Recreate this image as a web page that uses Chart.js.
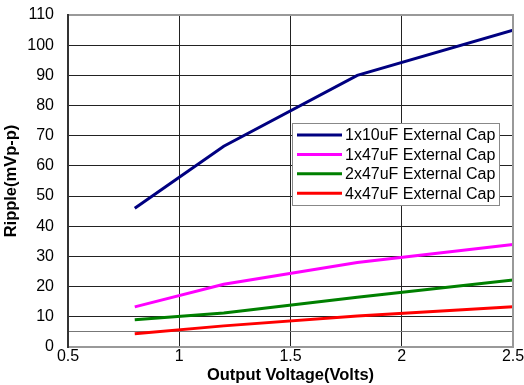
<!DOCTYPE html>
<html>
<head>
<meta charset="utf-8">
<script src="https://cdn.jsdelivr.net/npm/chart.js@4"></script>
<style>
  html, body { margin: 0; padding: 0; background: #fff; }
  #wrap { width: 524px; height: 385px; }
</style>
</head>
<body>
<div id="wrap"><canvas id="chart" width="524" height="385"></canvas></div>
<script>
// output voltage points (V)
const voltages = [0.8, 1.2, 1.8, 2.5];

// ripple in mVp-p, one list per cap setup
const ripple1x10 = [46, 66.5, 90, 105];
const ripple1x47 = [13.3, 20.8, 28, 34];
const ripple2x47 = [9, 11.3, 16.5, 22.2];
const ripple4x47 = [4.4, 7, 10.3, 13.3];

const seriesNames = ['1x10uF External Cap', '1x47uF External Cap', '2x47uF External Cap', '4x47uF External Cap'];
const seriesColors = ['#000080', '#ff00ff', '#008000', '#ff0000'];

// y grid has an extra unlabeled line at 5
const yTickValues = [0, 5, 10, 20, 30, 40, 50, 60, 70, 80, 90, 100, 110];

function toPoints(ys) {
  return voltages.map((v, i) => ({ x: v, y: ys[i] }));
}

const allSeries = [ripple1x10, ripple1x47, ripple2x47, ripple4x47];
const fontFamily = '"Liberation Sans", Arial, sans-serif';

// frame: gray on top/right/bottom, darker on the left
const framePlugin = {
  id: 'frame',
  afterDatasetsDraw(chart) {
    const { ctx, chartArea: a } = chart;
    ctx.save();
    ctx.lineWidth = 2;
    ctx.strokeStyle = '#999';
    ctx.beginPath();
    ctx.moveTo(a.left, a.top);
    ctx.lineTo(a.right, a.top);
    ctx.lineTo(a.right, a.bottom);
    ctx.lineTo(a.left, a.bottom);
    ctx.stroke();
    ctx.strokeStyle = '#333';
    ctx.beginPath();
    ctx.moveTo(a.left, a.top - 1);
    ctx.lineTo(a.left, a.bottom + 1);
    ctx.stroke();
    ctx.restore();
  }
};

// boxed legend sitting inside the plot, like the spreadsheet one
const boxLegendPlugin = {
  id: 'boxLegend',
  afterDraw(chart) {
    const ctx = chart.ctx;
    const x = 292, y = 123, w = 207, h = 82;
    ctx.save();
    ctx.fillStyle = '#fff';
    ctx.fillRect(x, y, w, h);
    ctx.strokeStyle = '#888';
    ctx.lineWidth = 1;
    ctx.strokeRect(x + 0.5, y + 0.5, w, h);
    ctx.font = '16px ' + fontFamily;
    ctx.textBaseline = 'middle';
    chart.data.datasets.forEach((ds, i) => {
      const ry = y + 12 + i * 19.4;
      ctx.strokeStyle = ds.borderColor;
      ctx.lineWidth = 3;
      ctx.beginPath();
      ctx.moveTo(x + 5, ry);
      ctx.lineTo(x + 50, ry);
      ctx.stroke();
      ctx.fillStyle = '#000';
      ctx.fillText(ds.label, x + 53, ry + 1);
    });
    ctx.restore();
  }
};

new Chart(document.getElementById('chart'), {
  type: 'line',
  data: {
    datasets: allSeries.map((ys, i) => ({
      label: seriesNames[i],
      data: toPoints(ys),
      borderColor: seriesColors[i],
      backgroundColor: seriesColors[i],
      borderWidth: 3,
      pointRadius: 0,
      tension: 0
    }))
  },
  options: {
    responsive: false,
    animation: false,
    layout: { padding: { left: 0, right: 11, top: 15, bottom: 0 } },
    plugins: {
      legend: { display: false },
      tooltip: { enabled: false }
    },
    scales: {
      x: {
        type: 'linear',
        min: 0.5,
        max: 2.5,
        ticks: {
          stepSize: 0.5,
          padding: 0,
          color: '#000',
          font: { family: fontFamily, size: 16 },
          callback: v => String(v)
        },
        grid: { color: '#222', lineWidth: 1, drawTicks: false, tickLength: 0 },
        border: { display: false },
        title: {
          display: true,
          text: 'Output Voltage(Volts)',
          color: '#000',
          padding: { top: 0, bottom: 0 },
          font: { family: fontFamily, size: 16.5, weight: 'bold' }
        },
        afterFit(scale) {
          scale.height = 38;
          scale.paddingLeft = 0;
          scale.paddingRight = 0;
        }
      },
      y: {
        min: 0,
        max: 110,
        afterBuildTicks(scale) {
          scale.ticks = yTickValues.map(v => ({ value: v }));
        },
        ticks: {
          padding: 14,
          color: '#000',
          font: { family: fontFamily, size: 16 },
          callback: v => (v === 5 ? '' : String(v))
        },
        grid: {
          color: ctx => (ctx.tick && ctx.tick.value === 5 ? '#777' : '#222'),
          lineWidth: 1,
          drawTicks: false,
          tickLength: 0
        },
        border: { display: false },
        title: {
          display: true,
          text: 'Ripple(mVp-p)',
          color: '#000',
          padding: { top: 2, bottom: 0 },
          font: { family: fontFamily, size: 16.5, weight: 'bold' }
        },
        afterFit(scale) {
          scale.width = 68;
          scale.paddingTop = 0;
          scale.paddingBottom = 0;
        }
      }
    }
  },
  plugins: [framePlugin, boxLegendPlugin]
});
</script>
</body>
</html>
